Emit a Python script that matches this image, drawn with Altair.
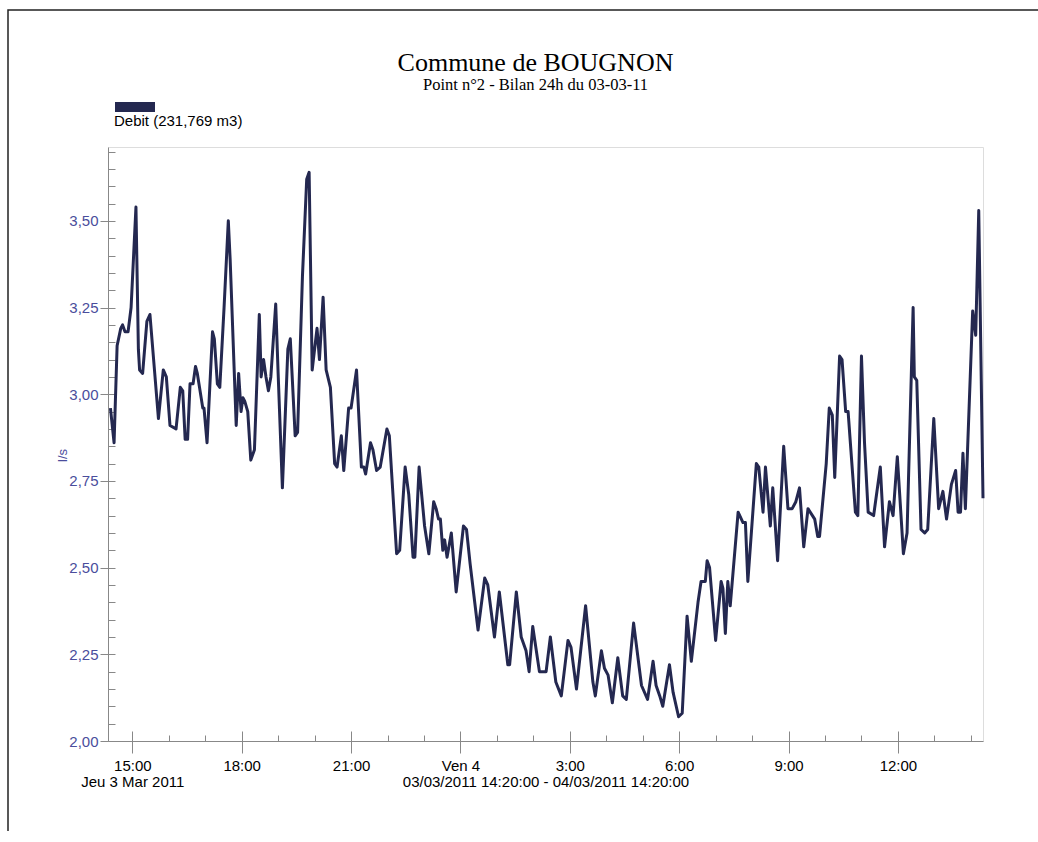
import altair as alt
import pandas as pd

# minutes after 03/03/2011 14:20:00
minutes = [4, 10, 15, 21, 24, 28, 33, 38, 46, 50, 52, 57, 64, 69, 76, 83, 91, 96, 102, 112,
           119, 123, 127, 131, 135, 140, 144, 147, 156, 158, 163, 172, 175, 180, 184, 191, 198, 201, 211, 215,
           219, 222, 225, 230, 235, 241, 249, 252, 256, 260, 264, 268, 276, 280, 287, 296, 300, 308, 312, 320,
           327, 331, 336, 344, 348, 354, 359, 366, 373, 377, 384, 388, 396, 400, 409, 417, 421, 424, 432, 436,
           442, 448, 459, 463, 475, 480, 489, 495, 502, 505, 512, 521, 528, 536, 540, 544, 547, 551, 554, 558,
           565, 573, 585, 590, 596, 609, 620, 625, 636, 644, 658, 661, 672, 680, 688, 693, 699, 710, 721, 728,
           737, 746, 757, 762, 771, 786, 798, 802, 812, 817, 823, 830, 839, 847, 853, 865, 878, 888, 897, 902,
           908, 913, 924, 930, 939, 945, 953, 960, 971, 976, 983, 986, 990, 1000, 1009, 1012, 1016, 1020, 1024, 1037,
           1045, 1049, 1053, 1067, 1071, 1078, 1082, 1090, 1094, 1102, 1112, 1119, 1126, 1132, 1138, 1145, 1152, 1163, 1168, 1171,
           1182, 1187, 1192, 1196, 1204, 1208, 1214, 1218, 1230, 1234, 1240, 1245, 1251, 1260, 1271, 1278, 1286, 1292, 1299, 1309,
           1315, 1325, 1327, 1331, 1338, 1344, 1349, 1359, 1367, 1374, 1380, 1388, 1395, 1399, 1403, 1407, 1411, 1423, 1428, 1433,
           1440]

debit = [2.96, 2.86, 3.14, 3.19, 3.20, 3.18, 3.18, 3.25, 3.54, 3.13, 3.07, 3.06, 3.21, 3.23, 3.08, 2.93, 3.07, 3.05, 2.91, 2.90,
         3.02, 3.01, 2.87, 2.87, 3.03, 3.03, 3.08, 3.06, 2.96, 2.96, 2.86, 3.18, 3.16, 3.03, 3.02, 3.25, 3.50, 3.39, 2.91, 3.06,
         2.95, 2.99, 2.98, 2.95, 2.81, 2.84, 3.23, 3.05, 3.10, 3.05, 3.01, 3.05, 3.26, 3.06, 2.73, 3.13, 3.16, 2.88, 2.89, 3.34,
         3.62, 3.64, 3.07, 3.19, 3.10, 3.28, 3.07, 3.02, 2.80, 2.79, 2.88, 2.78, 2.96, 2.96, 3.07, 2.79, 2.79, 2.77, 2.86, 2.84,
         2.78, 2.79, 2.90, 2.88, 2.54, 2.55, 2.79, 2.71, 2.53, 2.53, 2.79, 2.62, 2.54, 2.69, 2.67, 2.64, 2.64, 2.55, 2.58, 2.53,
         2.60, 2.43, 2.62, 2.61, 2.51, 2.32, 2.47, 2.45, 2.30, 2.43, 2.22, 2.22, 2.43, 2.30, 2.26, 2.20, 2.33, 2.20, 2.20, 2.30,
         2.17, 2.13, 2.29, 2.27, 2.15, 2.39, 2.17, 2.13, 2.26, 2.21, 2.19, 2.11, 2.24, 2.13, 2.12, 2.34, 2.16, 2.12, 2.23, 2.16,
         2.13, 2.10, 2.22, 2.14, 2.07, 2.08, 2.36, 2.23, 2.40, 2.46, 2.46, 2.52, 2.50, 2.29, 2.46, 2.44, 2.31, 2.46, 2.39, 2.66,
         2.63, 2.63, 2.46, 2.80, 2.79, 2.66, 2.79, 2.62, 2.73, 2.52, 2.85, 2.67, 2.67, 2.69, 2.73, 2.56, 2.67, 2.64, 2.59, 2.59,
         2.80, 2.96, 2.94, 2.76, 3.11, 3.10, 2.95, 2.95, 2.66, 2.65, 3.11, 2.86, 2.66, 2.65, 2.79, 2.56, 2.69, 2.65, 2.82, 2.54,
         2.60, 3.25, 3.05, 3.04, 2.61, 2.60, 2.61, 2.93, 2.67, 2.72, 2.64, 2.74, 2.78, 2.66, 2.66, 2.83, 2.67, 3.24, 3.17, 3.53,
         2.70]

y_major = [2.0, 2.25, 2.5, 2.75, 3.0, 3.25, 3.5]
y_minor = [round(2.0 + 0.05 * i, 2) for i in range(35)]
x_major = [(3, 15), (3, 18), (3, 21), (4, 0), (4, 3), (4, 6), (4, 9), (4, 12)]
x_minor = [(3, h) for h in range(15, 24)] + [(4, h) for h in range(0, 15)]

LINE_COLOR = "#242850"
LABEL_BLUE = "#4a4d9c"
SANS = "Liberation Sans"
SERIF = "Liberation Serif"

start = pd.Timestamp("2011-03-03 14:20:00")
df = pd.DataFrame({
    "temps": [(start + pd.Timedelta(minutes=m)).strftime("%Y-%m-%dT%H:%M:%S") for m in minutes],
    "debit": debit,
    "serie": ["Debit"] * len(minutes),
})


def dt(d, h, m=0):
    return alt.DateTime(year=2011, month=3, date=d, hours=h, minutes=m)


x_scale = alt.Scale(domain=[dt(3, 14, 20), dt(4, 14, 20)], nice=False)
y_scale = alt.Scale(domain=[2.0, 3.713], nice=False, zero=False)

pad = "\u00a0" * 7
label_expr = ("hours(datum.value) == 0 ? 'Ven 4' : (hours(datum.value) == 15 ? "
              "['15:00', 'Jeu 3 Mar 2011" + pad + "'] : timeFormat(datum.value, '%-H:%M'))")

main = alt.Chart(df).mark_line(color=LINE_COLOR, strokeWidth=3, strokeJoin="round").encode(
    x=alt.X("temps:T", scale=x_scale, axis=alt.Axis(
        orient="bottom", values=[dt(d, h) for d, h in x_major], labelExpr=label_expr,
        tickSize=12, labelPadding=5, labelFont=SANS, labelFontSize=15, labelColor="#000",
        labelLineHeight=16, labelOverlap=False, labelFlush=False, grid=False,
        title="03/03/2011 14:20:00 - 04/03/2011 14:20:00", titleFont=SANS, titleFontSize=15,
        titleFontWeight="normal", titleColor="#000", titleBaseline="top", titleY=33)),
    y=alt.Y("debit:Q", scale=y_scale, axis=alt.Axis(
        orient="left", values=y_major, labelExpr="replace(format(datum.value, '.2f'), '.', ',')",
        tickSize=8, labelPadding=2, labelFont=SANS, labelFontSize=15, labelColor=LABEL_BLUE,
        grid=False, title="l/s", titleFont=SANS, titleFontSize=13, titleFontWeight="normal",
        titleColor=LABEL_BLUE, titleX=-46, titleY=308, titleAlign="center", titleBaseline="middle",
        titleAngle=270)),
    color=alt.Color("serie:N", scale=alt.Scale(range=[LINE_COLOR]), legend=alt.Legend(
        orient="none", legendX=6, legendY=-50, title="Debit (231,769 m3)", titleOrient="bottom",
        titleAnchor="start", titleFont=SANS, titleFontSize=15, titleFontWeight="normal",
        titleColor="#000", titlePadding=-13, symbolType="M-1.8,0H6.2", symbolSize=100,
        symbolStrokeWidth=10, labelExpr="''", padding=0)),
)

minor = alt.Chart(df).mark_line(opacity=0).encode(
    x=alt.X("temps:T", scale=x_scale, axis=alt.Axis(
        orient="bottom", values=[dt(d, h) for d, h in x_minor], offset=-6, tickSize=6,
        labels=False, domain=False, grid=False, title="")),
    y=alt.Y("debit:Q", scale=y_scale, axis=alt.Axis(
        orient="left", values=y_minor, offset=-7, tickSize=7, labels=False, domain=False,
        grid=False, title="")),
)

major_inner = alt.Chart(df).mark_line(opacity=0).encode(
    x=alt.X("temps:T", scale=x_scale, axis=alt.Axis(
        orient="bottom", values=[dt(d, h) for d, h in x_major], offset=-10, tickSize=10,
        labels=False, domain=False, grid=False, title="")),
    y=alt.Y("debit:Q", scale=y_scale, axis=None),
)

frame = alt.Chart(pd.DataFrame({"cadre": [1]})).mark_rect(
    filled=False, stroke="#222", strokeWidth=1.5
).encode(x=alt.value(-100), x2=alt.value(940), y=alt.value(-137), y2=alt.value(700))

chart = alt.layer(frame, main, minor, major_inner).resolve_axis(
    x="independent", y="independent"
).properties(
    width=875, height=594,
    autosize=alt.AutoSizeParams(type="none"),
    padding={"left": 108, "top": 147, "right": 55, "bottom": 90},
    title=alt.TitleParams(
        text="Commune de BOUGNON", subtitle="Point n°2 - Bilan 24h du 03-03-11",
        font=SERIF, fontSize=26, fontWeight="normal", color="#000",
        subtitleFont=SERIF, subtitleFontSize=16.5, subtitleColor="#000", subtitlePadding=1,
        anchor="middle", dx=-10, dy=88),
).configure_view(stroke="#000", strokeWidth=1).configure_axis(
    domainColor="#000", tickColor="#000", domainWidth=1, tickWidth=1
).configure(background="white")

chart.save("out.html", embed_options={"renderer": "svg", "actions": False})
